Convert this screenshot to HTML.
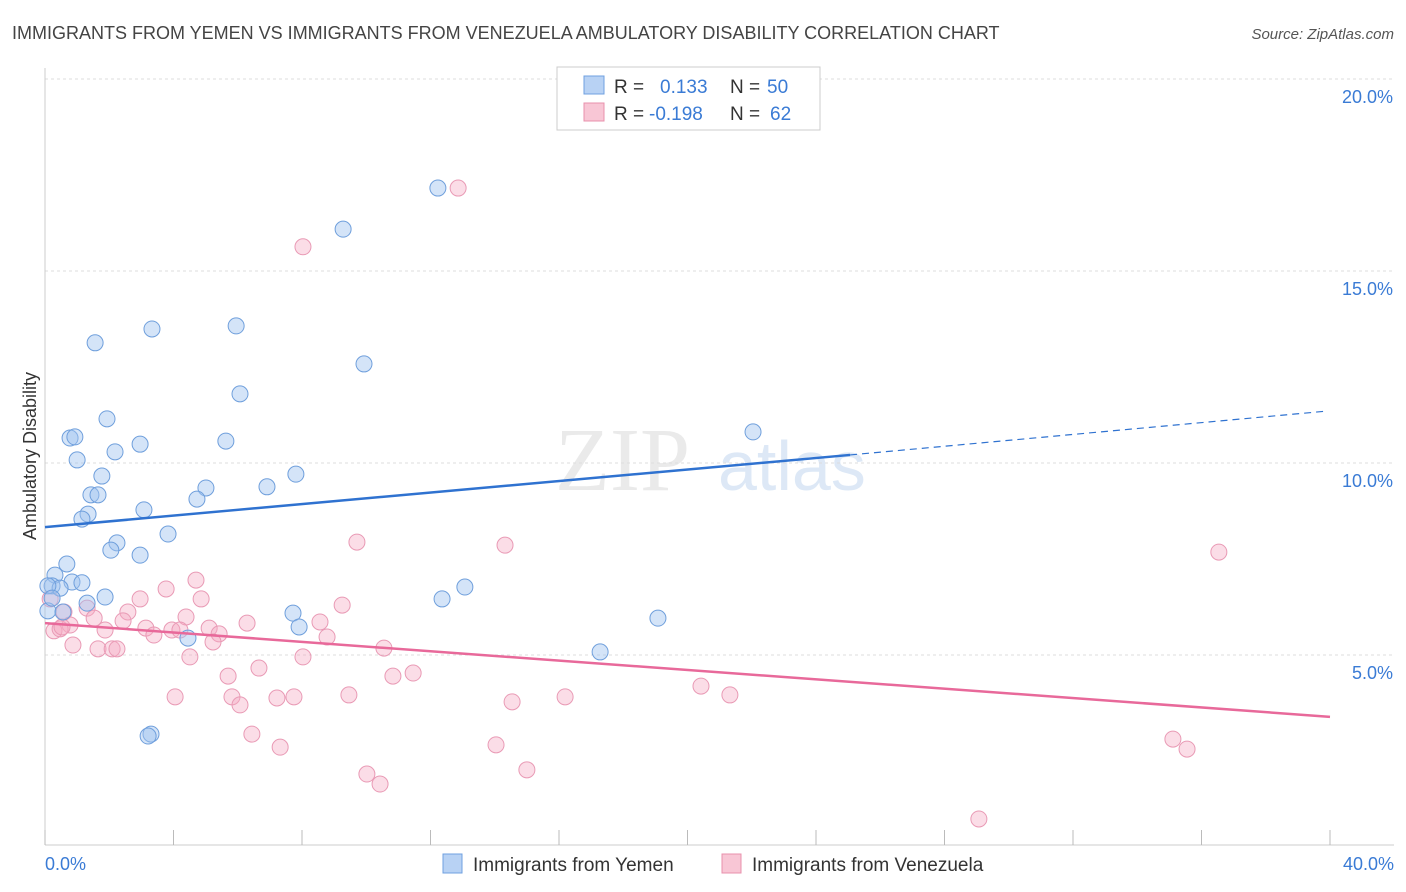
<!DOCTYPE html>
<html><head><meta charset="utf-8"><style>
body{margin:0;background:#fff;font-family:"Liberation Sans",sans-serif;}
svg{display:block}
</style></head><body>
<svg id="chart" width="1406" height="892">
<text x="12" y="39" font-size="18" fill="#444">IMMIGRANTS FROM YEMEN VS IMMIGRANTS FROM VENEZUELA AMBULATORY DISABILITY CORRELATION CHART</text>
<text x="1394" y="39" font-size="15" fill="#555" font-style="italic" text-anchor="end">Source: ZipAtlas.com</text>
<text x="36" y="456" font-size="18" fill="#333" text-anchor="middle" transform="rotate(-90 36 456)">Ambulatory Disability</text>
<g><text x="555" y="490" font-size="90" fill="#ddd" font-family="Liberation Serif" opacity="0.6">ZIP</text><text x="718" y="490" font-size="70" fill="#bcd3ee" opacity="0.5">atlas</text></g>
<g id="grid"></g><g id="axes"></g><g id="pts"></g><g id="trends"></g>
<g>
<rect x="557" y="67" width="263" height="63" fill="#fff" stroke="#ccc"/>
<rect x="584" y="76" width="20" height="18" fill="#b8d2f4" stroke="#6fa0e0"/>
<text x="614" y="93" font-size="19" fill="#333">R = </text><text x="660" y="93" font-size="19" fill="#3a7bd5">0.133</text>
<text x="730" y="93" font-size="19" fill="#333">N = </text><text x="767" y="93" font-size="19" fill="#3a7bd5">50</text>
<rect x="584" y="103" width="20" height="18" fill="#f8c6d5" stroke="#e890ac"/>
<text x="614" y="120" font-size="19" fill="#333">R = </text><text x="649" y="120" font-size="19" fill="#3a7bd5">-0.198</text>
<text x="730" y="120" font-size="19" fill="#333">N = </text><text x="770" y="120" font-size="19" fill="#3a7bd5">62</text>
</g>
<g>
<rect x="443" y="854" width="19" height="19" fill="#b8d2f4" stroke="#6fa0e0"/>
<text x="473" y="871" font-size="19" fill="#333">Immigrants from Yemen</text>
<rect x="722" y="854" width="19" height="19" fill="#f8c6d5" stroke="#e890ac"/>
<text x="752" y="871" font-size="19" fill="#333">Immigrants from Venezuela</text>
</g>
</svg>
<script>
const yemenX=[12.23,9.28,3.33,5.95,1.56,9.93,6.07,1.93,0.78,0.93,2.96,5.63,2.18,1.00,22.04,1.77,7.81,6.91,5.01,1.43,1.65,4.73,3.08,1.34,1.15,3.83,2.24,2.05,2.96,0.68,0.31,0.22,0.84,1.15,0.47,0.09,13.07,12.36,1.87,1.31,0.09,0.56,7.72,19.08,7.91,4.45,17.28,3.30,3.21,0.22];
const yemenY=[17.16,16.09,13.49,13.57,13.13,12.58,11.80,11.15,10.65,10.68,10.49,10.57,10.29,10.08,10.81,9.66,9.71,9.38,9.35,9.17,9.17,9.06,8.78,8.67,8.54,8.15,7.92,7.73,7.60,7.37,7.08,6.80,6.90,6.88,6.74,6.80,6.77,6.46,6.51,6.35,6.15,6.12,6.09,5.96,5.73,5.44,5.08,2.94,2.89,6.48];
const venX=[12.86,8.03,9.71,14.32,36.54,4.70,3.77,2.96,4.86,0.16,1.31,2.58,9.25,4.39,0.59,1.53,6.29,8.56,2.43,0.78,1.87,3.14,3.39,3.95,4.20,5.11,5.42,0.28,0.47,8.78,5.23,0.87,1.65,2.09,2.24,10.55,4.51,8.03,6.66,5.70,10.83,11.46,20.42,4.05,5.82,7.22,7.75,9.46,16.19,21.32,14.54,6.07,6.44,7.32,14.04,35.11,35.55,15.00,10.02,10.43,29.07,0.53];
const venY=[17.16,15.63,7.94,7.86,7.68,6.95,6.72,6.46,6.46,6.46,6.22,6.12,6.30,5.99,6.12,5.96,5.83,5.86,5.89,5.78,5.65,5.70,5.52,5.65,5.65,5.70,5.55,5.63,5.68,5.47,5.34,5.26,5.16,5.16,5.16,5.18,4.95,4.95,4.66,4.45,4.45,4.53,4.19,3.91,3.91,3.88,3.91,3.96,3.91,3.96,3.78,3.70,2.94,2.60,2.66,2.81,2.55,2.01,1.90,1.64,0.73,5.73];
const yTicks=[5,10,15,20];
const xTickVals=[0,4,8,12,16,20,24,28,32,36,40];
const yemenTrend=[[0,8.33],[25.06,10.21],[39.88,11.35]];
const venTrend=[[0,5.83],[40,3.39]];
const NS="http://www.w3.org/2000/svg";
const X=v=>45+v*32.125, Y=v=>847-v*38.4;
function mk(tag,attrs,parent){const e=document.createElementNS(NS,tag);for(const k in attrs)e.setAttribute(k,attrs[k]);parent.appendChild(e);return e;}
const grid=document.getElementById('grid'),axes=document.getElementById('axes'),pts=document.getElementById('pts'),tr=document.getElementById('trends');
yTicks.forEach(t=>{
 const l=mk('line',{x1:45,x2:1394,y1:Y(t),y2:Y(t),stroke:'#ddd','stroke-dasharray':'3,3'},grid);
 
 
 const tx=mk('text',{x:1393,y:Y(t)+24,'font-size':18,fill:'#3a7bd5','text-anchor':'end'},axes);
 tx.textContent=t.toFixed(1)+'%';
 
 
});
const yl=mk('line',{x1:45,x2:45,y1:68,y2:845,stroke:'#ccc'},axes);


const xl=mk('line',{x1:45,x2:1394,y1:845,y2:845,stroke:'#ccc'},axes);


xTickVals.forEach(t=>{
 const l=mk('line',{x1:X(t),x2:X(t),y1:830,y2:845,stroke:'#bbb'},axes);
 
 
});
[[0,'0.0%','start',45],[40,'40.0%','end',1394]].forEach(([v,s,a,px])=>{
 const tx=mk('text',{x:px,y:870,'font-size':18,fill:'#3a7bd5','text-anchor':a},axes);
 tx.textContent=s;
 
 
});
venX.forEach((v,i)=>{
 const c=mk('circle',{cx:X(v),cy:Y(venY[i]),r:8,fill:'rgba(244,170,195,0.4)',stroke:'#e99ab5','stroke-width':1},pts);
 
 
});
yemenX.forEach((v,i)=>{
 const c=mk('circle',{cx:X(v),cy:Y(yemenY[i]),r:8,fill:'rgba(160,195,240,0.45)',stroke:'#6f9fdc','stroke-width':1},pts);
 
 
});
const b1=mk('line',{x1:X(yemenTrend[0][0]),y1:Y(yemenTrend[0][1]),x2:X(yemenTrend[1][0]),y2:Y(yemenTrend[1][1]),stroke:'#2f72d0','stroke-width':2.5},tr);


const b2=mk('line',{x1:X(yemenTrend[1][0]),y1:Y(yemenTrend[1][1]),x2:X(yemenTrend[2][0]),y2:Y(yemenTrend[2][1]),stroke:'#2f72d0','stroke-width':1.2,'stroke-dasharray':'7,5'},tr);


const p1=mk('line',{x1:X(venTrend[0][0]),y1:Y(venTrend[0][1]),x2:X(venTrend[1][0]),y2:Y(venTrend[1][1]),stroke:'#e8699a','stroke-width':2.5},tr);


</script>
</body></html>
